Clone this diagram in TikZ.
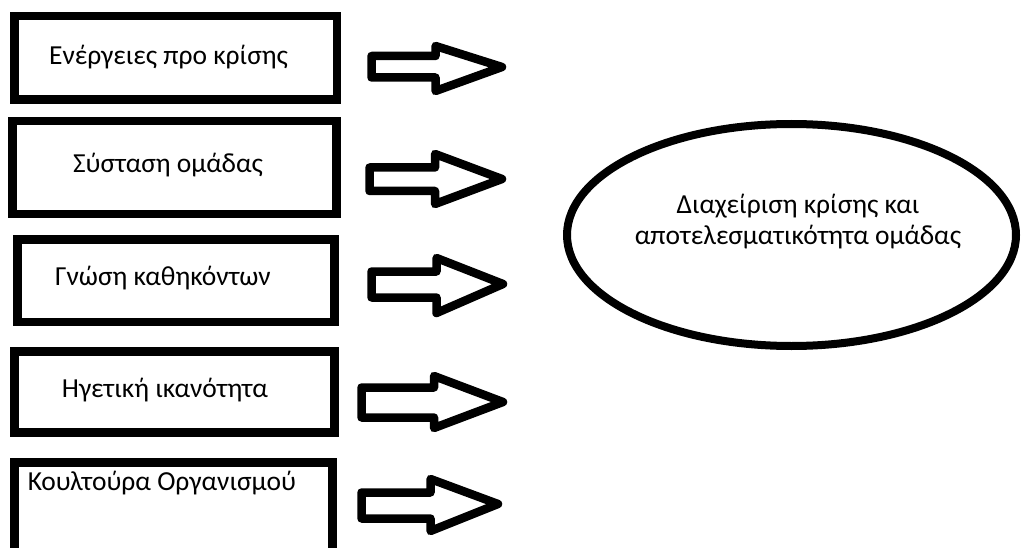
\documentclass[tikz,border=0pt]{standalone}
\usepackage{fontspec}
\setmainfont{Carlito}
\usetikzlibrary{shapes.geometric}
\tikzset{
  boxframe/.style={draw=black, line width=8.5pt, rectangle, inner sep=0pt, outer sep=0pt},
  boxlabel/.style={anchor=base, inner sep=0pt, font=\fontsize{27.5}{31}\selectfont, text=black},
  blockarrow/.style={draw=black, line width=8.5pt, line join=round, fill=white},
  goalshape/.style={draw=black, line width=8pt, ellipse, inner sep=0pt},
  goallabel/.style={align=center, inner sep=0pt, font=\fontsize{27.5}{31}\selectfont, text=black}
}
\begin{document}
\begin{tikzpicture}[x=1pt,y=-1pt]
\useasboundingbox (0,0) rectangle (1022,548);
\clip (0,0) rectangle (1022,548);
\fill[white] (0,0) rectangle (1022,548);

% boxes
\node[boxframe, minimum width=322.5pt, minimum height=83.5pt] (b1) at (175.75,57.75) {};
\node[boxframe, minimum width=324pt, minimum height=93pt] (b2) at (174.5,167.5) {};
\node[boxframe, minimum width=317pt, minimum height=82.5pt] (b3) at (176,280.75) {};
\node[boxframe, minimum width=320pt, minimum height=81pt] (b4) at (174.5,392) {};
\node[boxframe, minimum width=318pt, minimum height=97.5pt] (b5) at (173.5,511.25) {};

% box texts
\node[boxlabel] (t1) at (168.5,65) {Ενέργειες προ κρίσης};
\node[boxlabel] (t2) at (168,173) {Σύσταση ομάδας};
\node[boxlabel] (t3) at (163,285) {Γνώση καθηκόντων};
\node[boxlabel] (t4) at (165,397) {Ηγετική ικανότητα};
\node[boxlabel] (t5) at (162,490) {Κουλτούρα Οργανισμού};

% block arrows
\draw[blockarrow] (371.5,56) -- (435.5,56) -- (435.5,46) -- (502,67) -- (435.5,91) -- (435.5,77.5) -- (371.5,77.5) -- cycle;
\draw[blockarrow] (369.5,167.5) -- (435,167.5) -- (435,154) -- (502,179) -- (435,204) -- (435,191) -- (369.5,191) -- cycle;
\draw[blockarrow] (371.5,271.5) -- (436.5,271.5) -- (436.5,258) -- (503,284) -- (436.5,313) -- (436.5,297.5) -- (371.5,297.5) -- cycle;
\draw[blockarrow] (361.5,387.5) -- (434,387.5) -- (434,376) -- (503,402) -- (434,428) -- (434,417.5) -- (361.5,417.5) -- cycle;
\draw[blockarrow] (361.5,492.5) -- (430.5,492.5) -- (430.5,479) -- (498,504) -- (430.5,531) -- (430.5,518.5) -- (361.5,518.5) -- cycle;

% goal ellipse
\node[goalshape, minimum width=449pt, minimum height=222pt] (goal) at (791.5,235) {};
\node[goallabel] (gl) at (798,222) {Διαχείριση κρίσης και\\αποτελεσματικότητα ομάδας};
\end{tikzpicture}
\end{document}
